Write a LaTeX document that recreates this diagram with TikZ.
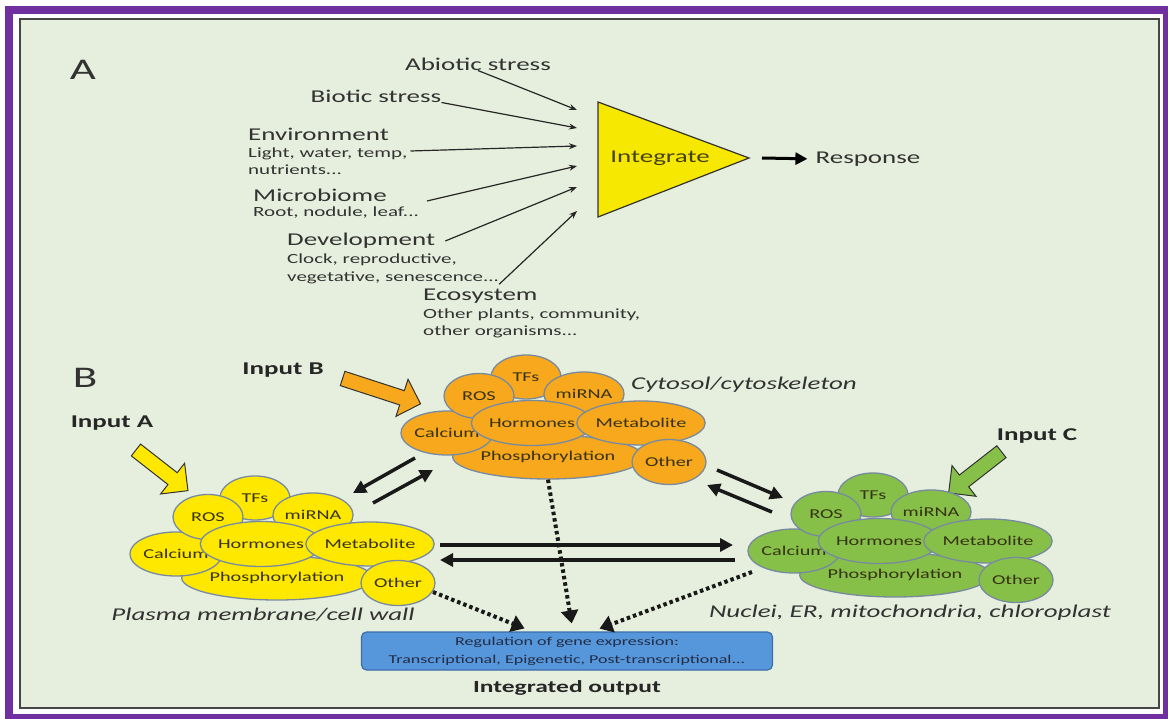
\documentclass[tikz,border=0pt]{standalone}
\usepackage{fontspec}
\setmainfont{Carlito}[FakeStretch=1.5]
\usetikzlibrary{arrows.meta,shapes.geometric,shapes.arrows}

\definecolor{framepurple}{RGB}{112,48,160}
\definecolor{panelbg}{RGB}{230,239,221}
\definecolor{paneledge}{RGB}{70,70,70}
\definecolor{labeltext}{RGB}{50,50,50}
\definecolor{trifill}{RGB}{246,232,0}
\definecolor{yelfill}{RGB}{255,232,0}
\definecolor{orafill}{RGB}{247,168,28}
\definecolor{grnfill}{RGB}{134,192,72}
\definecolor{blobedge}{RGB}{120,138,160}
\definecolor{blobtext}{RGB}{55,50,20}
\definecolor{boxfill}{RGB}{86,150,218}
\definecolor{boxedge}{RGB}{60,110,170}
\definecolor{boxtext}{RGB}{35,45,70}

\tikzset{
  panel/.style={font=\fontsize{30}{30}\selectfont, text=labeltext, inner sep=0pt},
  lbl/.style={font=\fontsize{18}{18}\selectfont, text=labeltext, inner sep=0pt},
  sublbl/.style={font=\fontsize{14}{14}\selectfont, text=labeltext, inner sep=0pt},
  inlbl/.style={font=\bfseries\fontsize{18}{18}\selectfont, text=black!85, inner sep=0pt},
  compart/.style={font=\itshape\fontsize{18}{18}\selectfont, text=labeltext, inner sep=0pt},
  feed/.style={line width=1.2pt, draw=black!85, -{Stealth[length=8pt,width=6pt]}},
  exch/.style={line width=3.5pt, draw=black!90, -{Triangle[length=13pt,width=13pt]}},
  dotflow/.style={line width=4pt, draw=black!90, dash pattern=on 3.5pt off 3pt, -{Triangle[length=13pt,width=17pt]}},
  inarrow/.style={single arrow, draw=black!80, line width=1pt, inner sep=7pt, single arrow head extend=12pt, minimum height=#1},
  blob/.style={ellipse, draw=blobedge, line width=1.3pt, inner sep=0pt, font=\fontsize{13.5}{14}\selectfont, text=blobtext}
}

\begin{document}
\begin{tikzpicture}[x=1pt,y=-1pt]
\useasboundingbox (0,0) rectangle (1168,719);
\fill[white] (0,0) rectangle (1168,719);
\draw[framepurple, line width=8pt] (9,10) rectangle (1167,718);
\draw[paneledge, fill=panelbg, line width=1.5pt] (20,19) rectangle (1159,708);

% panel A: inputs into the integrator
\node[panel] (pA) at (83,70) {A};
\node[lbl] (abiotic) at (478,64) {Abiotic stress};
\node[lbl] (biotic) at (376,96) {Biotic stress};
\node[lbl,anchor=west] (env) at (248,134) {Environment};
\node[sublbl,anchor=west] (envsub1) at (248,154) {Light, water, temp,};
\node[sublbl,anchor=west] (envsub2) at (248,170) {nutrients...};
\node[lbl,anchor=west] (micro) at (253,195) {Microbiome};
\node[sublbl,anchor=west] (microsub) at (253,213) {Root, nodule, leaf...};
\node[lbl,anchor=west] (dev) at (287,241) {Development};
\node[sublbl,anchor=west] (devsub1) at (287,260) {Clock, reproductive,};
\node[sublbl,anchor=west] (devsub2) at (287,278) {vegetative, senescence...};
\node[lbl,anchor=west] (eco) at (423,296) {Ecosystem};
\node[sublbl,anchor=west] (ecosub1) at (423,315) {Other plants, community,};
\node[sublbl,anchor=west] (ecosub2) at (423,332) {other organisms...};

\coordinate (triA) at (598,102);
\coordinate (triB) at (749,158);
\coordinate (triC) at (598,217);
\draw[fill=trifill, line width=1.2pt, draw=black!80] (triA) -- (triB) -- (triC) -- cycle;
\node[lbl, text={rgb,255:red,70;green,65;blue,20}] (integ) at (660,158) {Integrate};
\node[lbl] (resp) at (868,159) {Response};

\coordinate (t1) at (577,110);
\coordinate (t2) at (577,128);
\coordinate (t3) at (577,146);
\coordinate (t4) at (577,166);
\coordinate (t5) at (577,187);
\coordinate (t6) at (577,211);

\draw[feed] (abiotic.south) -- (t1);
\draw[feed] (biotic.south east) -- (t2);
\draw[feed] ([xshift=3pt,yshift=3pt]envsub1.east) -- (t3);
\draw[feed] ([xshift=40pt,yshift=-6pt]micro.east) -- (t4);
\draw[feed] ([xshift=10pt]dev.east) -- (t5);
\draw[feed] (devsub2.south east) -- (t6);
\draw[line width=3pt, -{Triangle[length=12pt,width=12pt]}, shorten >=8pt] ([xshift=13pt]triB) -- (resp.west);

% panel B: compartments
\node[panel] (pB) at (85,378) {B};
\node[inlbl] (inB) at (283,370) {Input B};
\node[inlbl] (inA) at (112,423) {Input A};
\node[inlbl] (inC) at (1037,436) {Input C};
\node[inarrow=82pt, fill=orafill, rotate=-18] (arB) at (378,390) {};
\node[inarrow=66pt, fill=yelfill, rotate=-38] (arA) at (159,468) {};
\node[inarrow=67pt, fill=grnfill, rotate=218] (arC) at (978,470) {};

\foreach \cl/\col/\px/\py in {pm/yelfill/277/578, cy/orafill/548/457, nu/grnfill/895/575}{
  \begin{scope}[shift={(\px,\py)}]
    \node[blob, fill=\col, minimum width=182pt, minimum height=44pt] (\cl-phos) at (0,0) {Phosphorylation};
    \node[blob, fill=\col, minimum width=72pt, minimum height=44pt] (\cl-ca) at (-101,-24) {Calcium};
    \node[blob, fill=\col, minimum width=70pt, minimum height=44pt] (\cl-tf) at (-22,-80) {TFs};
    \node[blob, fill=\col, minimum width=68pt, minimum height=44pt] (\cl-mi) at (36,-63) {miRNA};
    \node[blob, fill=\col, minimum width=70pt, minimum height=45pt] (\cl-ros) at (-69,-61) {ROS};
    \node[blob, fill=\col, minimum width=104pt, minimum height=45pt] (\cl-hor) at (-16,-34) {Hormones};
    \node[blob, fill=\col, minimum width=96pt, minimum height=44pt] (\cl-met) at (93,-34) {Metabolite};
    \node[blob, fill=\col, minimum width=74pt, minimum height=45pt] (\cl-oth) at (121,5) {Other};
  \end{scope}
}

\node[compart] (pmlbl) at (263,615) {Plasma membrane/cell wall};
\node[compart] (cylbl) at (744,385) {Cytosol/cytoskeleton};
\node[compart] (nulbl) at (910,613) {Nuclei, ER, mitochondria, chloroplast};

\coordinate (cy2pm) at (415,458);
\coordinate (pm2cyE) at (353,493);
\coordinate (pm2cy) at (373,503);
\coordinate (cy2pmE) at (433,470);
\coordinate (cy2nu) at (717,470);
\coordinate (cy2nuE) at (783,498);
\coordinate (nu2cy) at (772,512);
\coordinate (nu2cyE) at (707,485);
\coordinate (pm2nu) at (440,545);
\coordinate (pm2nuE) at (733,545);
\coordinate (nu2pm) at (735,560);
\coordinate (nu2pmE) at (440,560);

\draw[exch] (cy2pm) -- (pm2cyE);
\draw[exch] (pm2cy) -- (cy2pmE);
\draw[exch] (cy2nu) -- (cy2nuE);
\draw[exch] (nu2cy) -- (nu2cyE);
\draw[exch] (pm2nu) -- (pm2nuE);
\draw[exch] (nu2pm) -- (nu2pmE);

\node[draw=boxedge, fill=boxfill, rounded corners=5pt, line width=1.2pt, minimum width=411pt, minimum height=38pt, align=center, font=\fontsize{12}{18}\selectfont, text=boxtext, inner sep=0pt] (gexp) at (567,651) {Regulation of gene expression:\\Transcriptional, Epigenetic, Post-transcriptional...};
\node[inlbl, font=\bfseries\fontsize{17}{17}\selectfont] (intout) at (567,688) {Integrated output};

\draw[dotflow, shorten >=8pt] (433,592) -- ([xshift=-35pt]gexp.north);
\draw[dotflow, shorten >=8pt] (cy-phos.south) -- ([xshift=6pt]gexp.north);
\draw[dotflow, shorten >=8pt] (752,572) -- ([xshift=25pt]gexp.north);
\end{tikzpicture}
\end{document}
